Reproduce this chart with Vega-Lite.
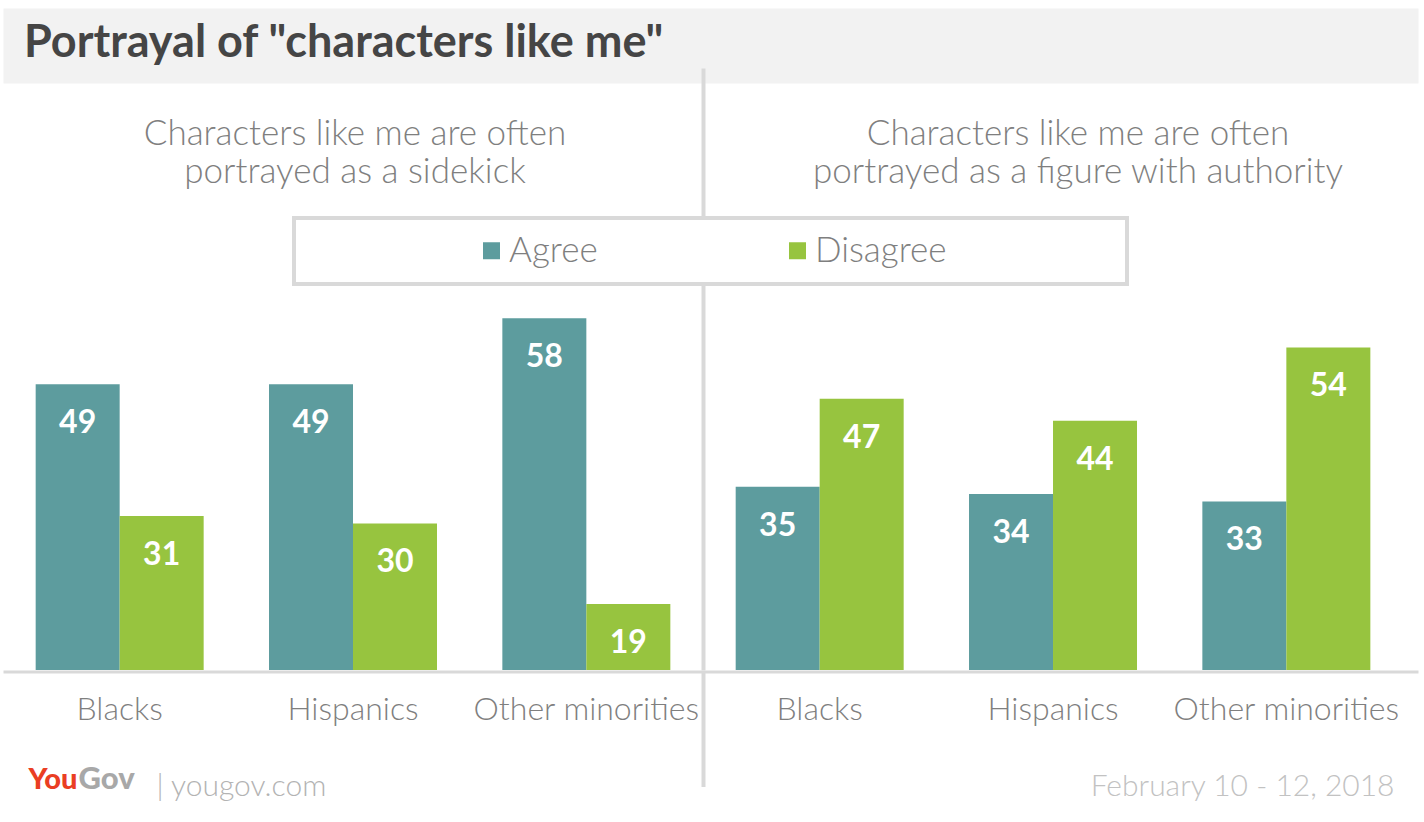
{
  "$schema": "https://vega.github.io/schema/vega-lite/v6.json",
  "width": 1415,
  "height": 602,
  "autosize": "none",
  "padding": {"top": 68, "left": 3, "right": 6, "bottom": 152},
  "background": "white",
  "title": {
    "text": "Portrayal of \"characters like me\"",
    "anchor": "start",
    "frame": "group",
    "font": "Lato",
    "fontSize": 45,
    "fontWeight": "bold",
    "color": "#454545",
    "baseline": "alphabetic",
    "offset": 9,
    "dx": 21,
    "dy": 65
  },
  "data": {
    "values": [
      {"column": "sidekick|Blacks", "statement": "Characters like me are often portrayed as a sidekick", "group": "Blacks", "response": "Agree", "pct": 49},
      {"column": "sidekick|Blacks", "statement": "Characters like me are often portrayed as a sidekick", "group": "Blacks", "response": "Disagree", "pct": 31},
      {"column": "sidekick|Hispanics", "statement": "Characters like me are often portrayed as a sidekick", "group": "Hispanics", "response": "Agree", "pct": 49},
      {"column": "sidekick|Hispanics", "statement": "Characters like me are often portrayed as a sidekick", "group": "Hispanics", "response": "Disagree", "pct": 30},
      {"column": "sidekick|Other minorities", "statement": "Characters like me are often portrayed as a sidekick", "group": "Other minorities", "response": "Agree", "pct": 58},
      {"column": "sidekick|Other minorities", "statement": "Characters like me are often portrayed as a sidekick", "group": "Other minorities", "response": "Disagree", "pct": 19},
      {"column": "authority|Blacks", "statement": "Characters like me are often portrayed as a figure with authority", "group": "Blacks", "response": "Agree", "pct": 35},
      {"column": "authority|Blacks", "statement": "Characters like me are often portrayed as a figure with authority", "group": "Blacks", "response": "Disagree", "pct": 47},
      {"column": "authority|Hispanics", "statement": "Characters like me are often portrayed as a figure with authority", "group": "Hispanics", "response": "Agree", "pct": 34},
      {"column": "authority|Hispanics", "statement": "Characters like me are often portrayed as a figure with authority", "group": "Hispanics", "response": "Disagree", "pct": 44},
      {"column": "authority|Other minorities", "statement": "Characters like me are often portrayed as a figure with authority", "group": "Other minorities", "response": "Agree", "pct": 33},
      {"column": "authority|Other minorities", "statement": "Characters like me are often portrayed as a figure with authority", "group": "Other minorities", "response": "Disagree", "pct": 54}
    ]
  },
  "layer": [
    {
      "mark": {"type": "bar", "clip": true},
      "encoding": {
        "x": {
          "field": "column",
          "type": "nominal",
          "sort": ["sidekick|Blacks", "sidekick|Hispanics", "sidekick|Other minorities", "authority|Blacks", "authority|Hispanics", "authority|Other minorities"],
          "scale": {"paddingInner": 0, "paddingOuter": 0.0321, "align": 0},
          "axis": {
            "orient": "bottom",
            "offset": 1.5,
            "zindex": 1,
            "domain": true,
            "domainColor": "#d9d9d9",
            "domainWidth": 3,
            "bandPosition": 0,
            "ticks": true,
            "tickSize": 115,
            "tickWidth": 4,
            "tickColor": {"condition": {"test": "datum.value === 'authority|Blacks'", "value": "#d9d9d9"}, "value": "transparent"},
            "grid": true,
            "gridWidth": 4,
            "gridColor": {"condition": {"test": "datum.value === 'authority|Blacks'", "value": "#d9d9d9"}, "value": "transparent"},
            "labelExpr": "split(datum.value, '|')[1]",
            "labelAngle": 0,
            "labelAlign": "center",
            "labelBaseline": "alphabetic",
            "labelPadding": -67.5,
            "labelFont": "Lato",
            "labelFontWeight": 300,
            "labelFontSize": 32,
            "labelColor": "#7f7f7f",
            "labelLimit": 0,
            "labelOverlap": false,
            "labelFlush": false,
            "title": "You",
            "titleX": 25,
            "titleY": 116.5,
            "titleAlign": "left",
            "titleAnchor": "start",
            "titleBaseline": "alphabetic",
            "titleFont": "Lato",
            "titleFontWeight": 900,
            "titleFontSize": 29,
            "titleColor": "#ea3e23"
          }
        },
        "xOffset": {
          "field": "response",
          "type": "nominal",
          "sort": ["Agree", "Disagree"],
          "scale": {"paddingInner": 0, "paddingOuter": 0.389}
        },
        "y": {
          "field": "pct",
          "type": "quantitative",
          "scale": {"domain": [10, 92.13], "zero": false, "nice": false},
          "axis": {
            "orient": "left",
            "labels": false,
            "ticks": false,
            "domain": false,
            "grid": false,
            "title": "| yougov.com",
            "titleAngle": 0,
            "titleX": 153,
            "titleY": 727,
            "titleAlign": "left",
            "titleAnchor": "start",
            "titleBaseline": "alphabetic",
            "titleFont": "Lato",
            "titleFontWeight": 300,
            "titleFontSize": 30,
            "titleColor": "#b3b3b3"
          }
        },
        "color": {
          "field": "response",
          "type": "nominal",
          "scale": {"domain": ["Agree", "Disagree"], "range": ["#5d9c9e", "#97c43f"]},
          "legend": {
            "orient": "none",
            "legendX": 291,
            "legendY": 150,
            "direction": "horizontal",
            "zindex": 2,
            "title": "Response",
            "titleOrient": "right",
            "titleOpacity": 0,
            "titleFontSize": 32,
            "titlePadding": 28,
            "symbolType": "square",
            "symbolSize": 289,
            "symbolStrokeWidth": 0,
            "symbolOpacity": 1,
            "symbolOffset": 165,
            "labelOffset": 0,
            "labelFont": "Lato",
            "labelFontWeight": 300,
            "labelFontSize": 35,
            "labelColor": "#7f7f7f",
            "columnPadding": 17,
            "padding": 15,
            "fillColor": "white",
            "strokeColor": "#d9d9d9"
          }
        }
      }
    },
    {
      "mark": {"type": "text", "font": "Lato", "fontWeight": "bold", "fontSize": 32, "color": "white", "baseline": "middle", "dy": 39},
      "encoding": {
        "x": {
          "field": "column",
          "type": "nominal",
          "sort": ["sidekick|Blacks", "sidekick|Hispanics", "sidekick|Other minorities", "authority|Blacks", "authority|Hispanics", "authority|Other minorities"],
          "axis": {
            "orient": "top",
            "offset": 22.5,
            "zindex": 0,
            "domain": true,
            "domainColor": "#f2f2f2",
            "domainWidth": 75,
            "ticks": false,
            "grid": false,
            "labelExpr": "datum.value === 'sidekick|Hispanics' ? ['Characters like me are often', 'portrayed as a sidekick'] : datum.value === 'authority|Hispanics' ? ['Characters like me are often', 'portrayed as a figure with authority'] : ''",
            "labelOffset": {"condition": {"test": "datum.value === 'authority|Hispanics'", "value": 25}, "value": 2},
            "labelAngle": 0,
            "labelAlign": "center",
            "labelBaseline": "alphabetic",
            "labelPadding": -98.5,
            "labelLineHeight": 38,
            "labelFont": "Lato",
            "labelFontWeight": 300,
            "labelFontSize": 35,
            "labelColor": "#7f7f7f",
            "labelLimit": 0,
            "labelOverlap": false,
            "labelFlush": false,
            "title": "Gov",
            "titleX": 75,
            "titleY": 742.5,
            "titleAlign": "left",
            "titleAnchor": "start",
            "titleBaseline": "alphabetic",
            "titleFont": "Lato",
            "titleFontWeight": 900,
            "titleFontSize": 31,
            "titleColor": "#a8a8a8"
          }
        },
        "xOffset": {"field": "response", "type": "nominal", "sort": ["Agree", "Disagree"]},
        "y": {
          "field": "pct",
          "type": "quantitative",
          "axis": {
            "orient": "right",
            "labels": false,
            "ticks": false,
            "domain": false,
            "grid": false,
            "title": "February 10 - 12, 2018",
            "titleAngle": 0,
            "titleX": -24,
            "titleY": 727,
            "titleAlign": "right",
            "titleAnchor": "end",
            "titleBaseline": "alphabetic",
            "titleFont": "Lato",
            "titleFontWeight": 300,
            "titleFontSize": 30,
            "titleColor": "#c2c2c2"
          }
        },
        "text": {"field": "pct", "type": "quantitative"}
      }
    }
  ],
  "resolve": {"axis": {"x": "independent", "y": "independent"}},
  "config": {
    "font": "Lato",
    "view": {"stroke": null, "fill": "white"},
    "legend": {"strokeWidth": 4}
  }
}
